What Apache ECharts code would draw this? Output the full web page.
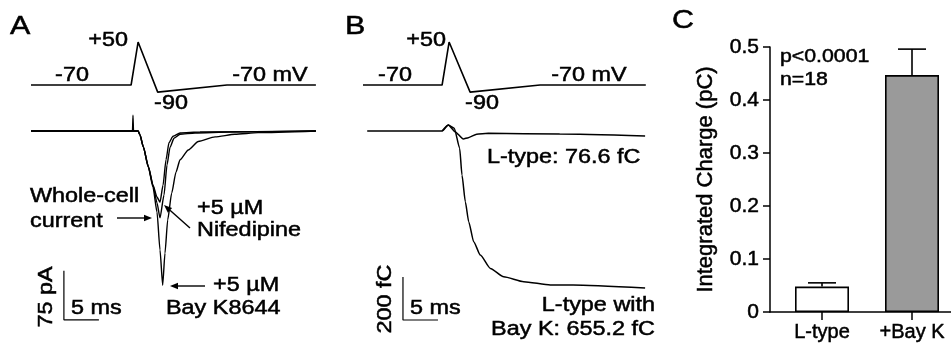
<!DOCTYPE html>
<html>
<head>
<meta charset="utf-8">
<script src="https://cdn.jsdelivr.net/npm/echarts@6/dist/echarts.min.js"></script>
<style>
  html, body { margin: 0; padding: 0; background: #fff; }
  #chart { width: 951px; height: 345px; }
</style>
</head>
<body>
<div id="chart"></div>
<script>
// voltage protocol, [ms, mV]
const protocolA = [[0, -70], [14.3, -70], [15.3, 50], [18.1, -90], [28.0, -70], [40.7, -70]];
const protocolB = [[0, -70], [11.3, -70], [12.3, 50], [15.3, -90], [25.3, -70], [40.4, -70]];

// panel A currents, [ms, pA]
const wholeCell = [[0, 0], [14.5, 0], [14.57, 24], [14.64, 0], [15.3, 0], [15.57, -6], [16.04, -24], [16.76, -55],
  [17.47, -85], [18.0, -110], [18.43, -133], [19.0, -98], [19.43, -52], [19.86, -25], [20.43, -11], [21.29, -5],
  [23.43, -3], [28.43, -1.5], [40.7, 0]];
const nifedipine = [[0, 0], [15.3, 0], [15.57, -6], [16.04, -24], [16.76, -54], [17.43, -83], [18.0, -101],
  [18.43, -109], [18.86, -83], [19.29, -44], [19.71, -18], [20.29, -8], [21.29, -3], [24.14, -1.5], [40.7, 0]];
const bayK = [[0, 0], [15.3, 0], [15.57, -6], [16.04, -24], [16.76, -55], [17.43, -86], [18.0, -124], [18.43, -182],
  [18.81, -236], [19.14, -187], [19.53, -136], [20.1, -95], [20.71, -63], [21.29, -44], [22.47, -29], [23.9, -16],
  [26.29, -9], [29.14, -5], [32.43, -2.5], [40.7, 0]];

// panel B integrated charge, [ms, fC]
const chargeLType = [[0.6, 0], [11.3, 0], [12.19, 28], [13.14, -3], [14.33, -37], [15.05, -31], [16.24, -15],
  [17.9, -11], [28.1, -14], [40.3, -23]];
const chargeBayK = [[11.3, 0], [12.19, 28], [13.04, 13], [13.81, -80], [14.14, -205], [14.62, -329], [15.1, -422],
  [15.81, -515], [16.76, -577], [18.19, -639], [20.1, -678], [22.96, -701], [26.76, -716], [30, -716], [40.3, -730]];

// scale bars: [ms, pA] and [ms, fC]
const scaleA = [5, 75];
const scaleB = [5, 200];

// panel C
const groups = ['L-type', '+Bay K'];
const charge = [0.048, 0.447];
const chargeSem = [0.007, 0.049];

const FONT = 'Liberation Sans, Arial, Helvetica, sans-serif';

// pixel frame -> grid + axis range
function frame(left, top, width, height, pxX, pxY, y0, v0) {
  const yMax = v0 + (y0 - top) / pxY;
  return {
    grid: { left, top, width, height },
    x: { min: 0, max: width / pxX },
    y: { min: yMax - height / pxY, max: yMax }
  };
}

const frames = [
  frame(31, 30, 290, 80, 7, 0.3583, 85, -70),   // A voltage
  frame(31, 100, 290, 230, 7, 0.6533, 131, 0),  // A current
  frame(363, 30, 290, 80, 7, 0.3583, 85, -70),  // B voltage
  frame(363, 100, 290, 230, 7, 0.215, 131, 0)   // B charge
];

function trace(idx, data, width, smooth) {
  return {
    type: 'line', xAxisIndex: idx, yAxisIndex: idx, data,
    showSymbol: false, smooth: smooth === undefined ? 0.2 : smooth, smoothMonotone: 'x', silent: true,
    lineStyle: { color: '#000', width: width || 1.4 }
  };
}

function scaleBar(idx, t, v, sc) {
  return trace(idx, [[t, v + sc[1]], [t, v], [t + sc[0], v]], 1.2, false);
}

function txt(text, x, y, align, size, opts) {
  return Object.assign({
    type: 'text', x, y, scaleX: 1.17, z: 50,
    style: {
      text, fontSize: size || 20, fontFamily: FONT, fill: '#000', align, verticalAlign: 'middle',
      stroke: '#000', lineWidth: 0.5
    }
  }, opts || {});
}

function arrow(tail, tip) {
  const dx = tip[0] - tail[0], dy = tip[1] - tail[1];
  const len = Math.sqrt(dx * dx + dy * dy);
  const ux = dx / len, uy = dy / len;
  const bx = tip[0] - ux * 8, by = tip[1] - uy * 8;
  return {
    type: 'group', z: 50,
    children: [
      { type: 'line', shape: { x1: tail[0], y1: tail[1], x2: bx, y2: by }, style: { stroke: '#000', lineWidth: 1.4 } },
      { type: 'polygon', shape: { points: [tip, [bx - uy * 3.2, by + ux * 3.2], [bx + uy * 3.2, by - ux * 3.2]] }, style: { fill: '#000' } }
    ]
  };
}

const hidden = f => ({ type: 'value', show: false, min: f.min, max: f.max });
const axisText = { color: '#000', fontSize: 20, fontFamily: FONT, textBorderColor: '#000', textBorderWidth: 0.5 };

const chart = echarts.init(document.getElementById('chart'));

const option = {
  backgroundColor: '#fff',
  animation: false,
  grid: frames.map(f => f.grid).concat([{ left: 770, top: 47, width: 181, height: 265 }]),
  xAxis: frames.map((f, i) => Object.assign(hidden(f.x), { gridIndex: i })).concat([{
    gridIndex: 4, type: 'value', min: 0.4222, max: 2.4333,
    axisLine: { show: true, lineStyle: { color: '#000', width: 1.5 } },
    axisTick: { show: true, customValues: [1, 2], length: 8, lineStyle: { color: '#000', width: 1.5 } },
    axisLabel: Object.assign({
      customValues: [1, 2], formatter: v => groups[Math.round(v) - 1], margin: 10
    }, axisText),
    splitLine: { show: false }
  }]),
  yAxis: frames.map((f, i) => Object.assign(hidden(f.y), { gridIndex: i })).concat([{
    gridIndex: 4, type: 'value', min: 0, max: 0.5, interval: 0.1,
    name: 'Integrated Charge (pC)', nameLocation: 'middle', nameGap: 53,
    nameTextStyle: Object.assign({}, axisText, { fontSize: 22 }),
    axisLine: { show: true, lineStyle: { color: '#000', width: 1.5 } },
    axisTick: { show: true, length: 7, lineStyle: { color: '#000', width: 1.5 } },
    axisLabel: Object.assign({
      formatter: v => (v === 0 ? '0' : v.toFixed(1)), margin: 11
    }, axisText, { fontSize: 21 }),
    splitLine: { show: false }
  }]),
  series: [
    trace(0, protocolA, 1.6, false),
    trace(1, wholeCell),
    trace(1, nifedipine),
    trace(1, bayK),
    scaleBar(1, 4.7, -289, scaleA),
    trace(2, protocolB, 1.6, false),
    trace(3, chargeLType, 1.5),
    trace(3, chargeBayK, 1.5),
    scaleBar(3, 5.71, -879, scaleB),
    {
      type: 'bar', xAxisIndex: 4, yAxisIndex: 4, barWidth: 54, silent: true,
      data: groups.map((g, i) => ({
        value: [i + 1, charge[i]],
        itemStyle: { color: i === 0 ? '#fff' : '#9a9a9a', borderColor: '#000', borderWidth: 1.6 }
      }))
    },
    {
      type: 'custom', xAxisIndex: 4, yAxisIndex: 4, silent: true, z: 5,
      data: groups.map((g, i) => [i + 1, charge[i], charge[i] + chargeSem[i]]),
      renderItem: (params, api) => {
        const base = api.coord([api.value(0), api.value(1)]);
        const top = api.coord([api.value(0), api.value(2)]);
        const st = { stroke: '#000', lineWidth: 1.6 };
        return {
          type: 'group',
          children: [
            { type: 'line', shape: { x1: base[0], y1: base[1], x2: top[0], y2: top[1] }, style: st },
            { type: 'line', shape: { x1: top[0] - 14, y1: top[1], x2: top[0] + 14, y2: top[1] }, style: st }
          ]
        };
      }
    }
  ],
  graphic: [
    // panel A
    txt('A', 10, 27, 'left', 26),
    txt('+50', 128, 40, 'right'),
    txt('-70', 72, 75, 'center'),
    txt('-70 mV', 270, 75, 'center'),
    txt('-90', 171, 103, 'center'),
    txt('Whole-cell', 30, 196, 'left'),
    txt('current', 30, 221, 'left'),
    txt('+5 µM', 197, 208, 'left'),
    txt('Nifedipine', 197, 230, 'left'),
    txt('+5 µM', 213, 285, 'left'),
    txt('Bay K8644', 166, 308, 'left'),
    txt('75 pA', 46, 297, 'center', 20, { rotation: Math.PI / 2 }),
    txt('5 ms', 71, 308, 'left'),
    arrow([117, 218], [152, 218]),
    arrow([190, 228], [164, 205]),
    arrow([205, 286], [170, 286]),
    // panel B
    txt('B', 345, 27, 'left', 26),
    txt('+50', 446, 40, 'right'),
    txt('-70', 395, 75, 'center'),
    txt('-70 mV', 589, 75, 'center'),
    txt('-90', 482, 103, 'center'),
    txt('L-type: 76.6 fC', 487, 157, 'left'),
    txt('L-type with', 655, 305, 'right'),
    txt('Bay K: 655.2 fC', 655, 329, 'right'),
    txt('200 fC', 385, 299, 'center', 20, { rotation: Math.PI / 2 }),
    txt('5 ms', 410, 308, 'left'),
    // panel C
    txt('C', 672, 21, 'left', 26),
    txt('p<0.0001', 780, 57, 'left', 19, { scaleX: 1.12 }),
    txt('n=18', 780, 80, 'left', 19, { scaleX: 1.12 })
  ]
};

chart.setOption(option);
</script>
</body>
</html>
